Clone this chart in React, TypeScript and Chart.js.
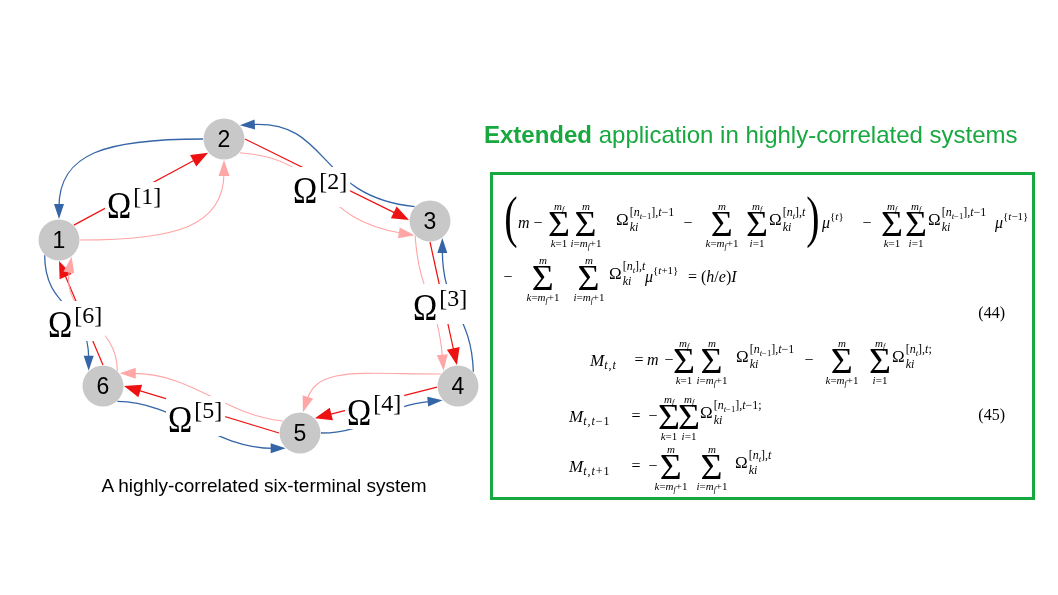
import React, { useEffect, useRef } from "react";
import { Chart, registerables } from "chart.js";

Chart.register(...registerables);

// ---------------- data ----------------
const nodeLabels = ["1", "2", "3", "4", "5", "6"];
const nodeX = [59, 224, 430, 458, 300, 103];
const nodeY = [240, 139, 221, 386, 433, 386];

// directed couplings between terminals (0-based node index)
const edgeFrom = [1, 0, 0, 2, 1, 1, 2, 2, 3, 3, 3, 4, 4, 4, 5, 5, 5, 0];
const edgeTo = [0, 1, 1, 1, 2, 2, 3, 3, 2, 4, 4, 3, 5, 5, 4, 0, 0, 5];
const edgeKind = ["b", "r", "p", "b", "r", "p", "r", "p", "b", "r", "p", "b", "r", "p", "b", "r", "p", "b"];

const omegaTerms = ["[1]", "[2]", "[3]", "[4]", "[5]", "[6]"];
const omegaX = [107, 293, 413, 347, 168, 48];
const omegaY = [218, 203, 320, 425, 432, 337];

const titleBold = "Extended";
const titleRest = " application in highly-correlated systems";
const caption = "A highly-correlated six-terminal system";
const eqNumbers = ["(44)", "(45)"];

// ---------------- styles ----------------
const GREEN = "#17a840";
const MF = '"Liberation Serif", "Times New Roman", serif';
const SF = '"Liberation Sans", Arial, sans-serif';
const NODE_R = 20.5;
const EDGE_R = 21;
const kindColor: Record<string, string> = { b: "#3565a6", r: "#ee1111", p: "#ffa6a6" };
const kindWidth: Record<string, number> = { b: 1.3, r: 1.2, p: 1.1 };
const kindArrow: Record<string, number[]> = { b: [15, 5], r: [17, 6.5], p: [16, 5.5] };
// [exit angle on source, entry angle on target, start handle dir, len, end handle dir, len]
const edgeShape = [
  [180, 270, 180, 97, 270, 54],
  [315, 139, 0, 0, 0, 0],
  [0, 90, 0, 95, 90, 54],
  [223, 319, 186, 100, -3, 80],
  [0, 183, 0, 0, 0, 0],
  [41, 137, 4, 90, 189, 90],
  [90, 267, 0, 0, 0, 0],
  [135, 227, 86, 60, 265, 60],
  [317, 54, 268, 60, 90, 60],
  [177, 315, 0, 0, 0, 0],
  [215, 278, 180, 85, 288, 35],
  [0, 137, 0, 50, 175, 50],
  [180, 0, 0, 0, 0, 0],
  [215, 323, 186, 60, 0, 60],
  [47, 133, 1, 60, 180, 60],
  [270, 90, 0, 0, 0, 0],
  [313, 53, 270, 50, 100, 50],
  [133, 227, 90, 55, 270, 55],
];

const rad = (d: number) => (d * Math.PI) / 180;

const diagramPlugin = {
  id: "diagram",
  beforeDatasetsDraw(chart: any) {
    const ctx = chart.ctx as CanvasRenderingContext2D;
    const sx = chart.scales.x;
    const sy = chart.scales.y;
    const cx = nodeX.map((v) => sx.getPixelForValue(v));
    const cy = nodeY.map((v) => sy.getPixelForValue(v));
    ctx.save();
    edgeFrom.forEach((f, i) => {
      const t = edgeTo[i];
      const [a0, a1, h0d, h0l, h1d, h1l] = edgeShape[i];
      const p0 = [cx[f] + EDGE_R * Math.cos(rad(a0)), cy[f] + EDGE_R * Math.sin(rad(a0))];
      const p3 = [cx[t] + EDGE_R * Math.cos(rad(a1)), cy[t] + EDGE_R * Math.sin(rad(a1))];
      const c1 = [p0[0] + h0l * Math.cos(rad(h0d)), p0[1] + h0l * Math.sin(rad(h0d))];
      const c2 = [p3[0] + h1l * Math.cos(rad(h1d)), p3[1] + h1l * Math.sin(rad(h1d))];
      const curved = h0l > 0 || h1l > 0;
      let ux = curved ? p3[0] - c2[0] : p3[0] - p0[0];
      let uy = curved ? p3[1] - c2[1] : p3[1] - p0[1];
      const ul = Math.hypot(ux, uy) || 1;
      ux /= ul;
      uy /= ul;
      const [AL, AW] = kindArrow[edgeKind[i]];
      const sh = AL * 0.8;
      const e = [p3[0] - ux * sh, p3[1] - uy * sh];
      const col = kindColor[edgeKind[i]];
      ctx.beginPath();
      ctx.moveTo(p0[0], p0[1]);
      if (curved) ctx.bezierCurveTo(c1[0], c1[1], c2[0] - ux * sh, c2[1] - uy * sh, e[0], e[1]);
      else ctx.lineTo(e[0], e[1]);
      ctx.strokeStyle = col;
      ctx.lineWidth = kindWidth[edgeKind[i]];
      ctx.stroke();
      const bx = p3[0] - ux * AL;
      const by = p3[1] - uy * AL;
      ctx.beginPath();
      ctx.moveTo(p3[0], p3[1]);
      ctx.lineTo(bx - uy * AW, by + ux * AW);
      ctx.lineTo(bx + uy * AW, by - ux * AW);
      ctx.closePath();
      ctx.fillStyle = col;
      ctx.fill();
    });
    // Omega labels
    omegaTerms.forEach((term, i) => {
      const x = sx.getPixelForValue(omegaX[i]);
      const y = sy.getPixelForValue(omegaY[i]);
      ctx.font = `37px ${MF}`;
      const w1 = ctx.measureText("Ω").width * 0.88;
      ctx.font = `24px ${MF}`;
      const w2 = ctx.measureText(term).width;
      ctx.fillStyle = "#ffffff";
      ctx.fillRect(x - 2, y - 36, w1 + w2 + 7, 40);
      ctx.fillStyle = "#000000";
      ctx.textBaseline = "alphabetic";
      ctx.textAlign = "left";
      ctx.save();
      ctx.translate(x, y);
      ctx.scale(0.88, 1);
      ctx.font = `37px ${MF}`;
      ctx.fillText("Ω", 0, 0);
      ctx.restore();
      ctx.font = `24px ${MF}`;
      ctx.fillText(term, x + w1 + 2, y - 14);
    });
    ctx.restore();
  },
  afterDatasetsDraw(chart: any) {
    const ctx = chart.ctx as CanvasRenderingContext2D;
    const sx = chart.scales.x;
    const sy = chart.scales.y;
    ctx.save();
    ctx.font = `23px ${SF}`;
    ctx.fillStyle = "#000";
    ctx.textAlign = "center";
    ctx.textBaseline = "alphabetic";
    nodeLabels.forEach((l, i) => {
      ctx.fillText(l, sx.getPixelForValue(nodeX[i]), sy.getPixelForValue(nodeY[i]) + 8);
    });
    ctx.restore();
  },
};

// ---------------- math helpers ----------------
const Sub = ({ children, dy = 4, size = 12 }: any) => (
  <span style={{ fontSize: size, position: "relative", top: dy, letterSpacing: 1 }}>{children}</span>
);
const Sup = ({ children, dy = -7, size = 11 }: any) => (
  <span style={{ fontSize: size, position: "relative", top: dy }}>{children}</span>
);
const Tiny = ({ children }: any) => (
  <span style={{ fontSize: "0.72em", position: "relative", top: "0.3em" }}>{children}</span>
);
const mf = (
  <>
    <i>m</i>
    <Tiny>
      <i>f</i>
    </Tiny>
  </>
);
const mm = <i>m</i>;
const kOne = (
  <>
    <i>k</i>=1
  </>
);
const iOne = (
  <>
    <i>i</i>=1
  </>
);
const kMf = (
  <>
    <i>k</i>={mf}+1
  </>
);
const iMf = (
  <>
    <i>i</i>={mf}+1
  </>
);
const supPrev = (
  <>
    [<i>n</i>
    <Tiny>
      <i>t</i>−1
    </Tiny>
    ],<i>t</i>−1
  </>
);
const supCur = (
  <>
    [<i>n</i>
    <Tiny>
      <i>t</i>
    </Tiny>
    ],<i>t</i>
  </>
);

function At({ x, y, children, size = 16, anchor = "l" }: any) {
  const tx = anchor === "c" ? "-50%" : anchor === "r" ? "-100%" : "0";
  return (
    <div
      style={{
        position: "absolute",
        left: x,
        top: y,
        transform: `translate(${tx},-50%)`,
        fontFamily: MF,
        fontSize: size,
        lineHeight: 1,
        whiteSpace: "nowrap",
        display: "flex",
        alignItems: "center",
        color: "#000",
      }}
    >
      {children}
    </div>
  );
}

function Sum({ x, y, top, bot }: any) {
  return (
    <div
      style={{
        position: "absolute",
        left: x,
        top: y,
        transform: "translate(-50%,-50%)",
        display: "flex",
        flexDirection: "column",
        alignItems: "center",
        fontFamily: MF,
        color: "#000",
      }}
    >
      <span style={{ fontSize: 11, lineHeight: "12px", height: 12, whiteSpace: "nowrap" }}>{top}</span>
      <span style={{ fontSize: 35, lineHeight: "25px", height: 25, display: "inline-block", transform: "scaleX(1.08)" }}>Σ</span>
      <span style={{ fontSize: 11, lineHeight: "12px", height: 12, whiteSpace: "nowrap" }}>{bot}</span>
    </div>
  );
}

function OmT({ x, y, sup }: any) {
  return (
    <div
      style={{
        position: "absolute",
        left: x,
        top: y - 5,
        transform: "translateY(-50%)",
        display: "flex",
        alignItems: "center",
        fontFamily: MF,
        whiteSpace: "nowrap",
        color: "#000",
      }}
    >
      <span style={{ fontSize: 17, lineHeight: "17px" }}>Ω</span>
      <span style={{ display: "flex", flexDirection: "column", fontSize: 12, lineHeight: "14px", marginLeft: 1 }}>
        <span>{sup}</span>
        <span>
          <i>ki</i>
        </span>
      </span>
    </div>
  );
}

const Mu = ({ x, y, s }: any) => (
  <At x={x} y={y}>
    <i>μ</i>
    <Sup>{s}</Sup>
  </At>
);

const MSym = ({ x, y, sub }: any) => (
  <At x={x} y={y} size={17}>
    <i>M</i>
    <Sub>{sub}</Sub>
  </At>
);

function Equations() {
  const y1 = 224;
  const y2 = 278;
  const y3 = 361;
  const y4 = 417;
  const y5 = 467;
  return (
    <>
      {/* line 1 */}
      <At x={511} y={y1 - 6} anchor="c">
        <span style={{ fontSize: 40, display: "inline-block", transform: "scaleY(1.4)" }}>(</span>
      </At>
      <At x={518} y={y1 - 1}>
        <i>m</i>
      </At>
      <At x={538} y={y1 - 1.5} anchor="c">−</At>
      <Sum x={559} y={y1} top={mf} bot={kOne} />
      <Sum x={586} y={y1} top={mm} bot={iMf} />
      <OmT x={616} y={y1} sup={supPrev} />
      <At x={688} y={y1 - 1.5} anchor="c">−</At>
      <Sum x={722} y={y1} top={mm} bot={kMf} />
      <Sum x={757} y={y1} top={mf} bot={iOne} />
      <OmT x={769} y={y1} sup={supCur} />
      <At x={813} y={y1 - 6} anchor="c">
        <span style={{ fontSize: 40, display: "inline-block", transform: "scaleY(1.4)" }}>)</span>
      </At>
      <Mu x={822} y={y1 - 1} s={<>{"{"}<i>t</i>{"}"}</>} />
      <At x={867} y={y1 - 1.5} anchor="c">−</At>
      <Sum x={892} y={y1} top={mf} bot={kOne} />
      <Sum x={916} y={y1} top={mf} bot={iOne} />
      <OmT x={928} y={y1} sup={supPrev} />
      <Mu x={995} y={y1 - 1} s={<>{"{"}<i>t</i>−1{"}"}</>} />

      {/* line 2 */}
      <At x={508} y={y2 - 1.5} anchor="c">−</At>
      <Sum x={543} y={y2} top={mm} bot={kMf} />
      <Sum x={589} y={y2} top={mm} bot={iMf} />
      <OmT x={609} y={y2} sup={supCur} />
      <Mu x={645} y={y2 - 1} s={<>{"{"}<i>t</i>+1{"}"}</>} />
      <At x={688} y={y2 - 1}>
        =&nbsp;(<i>h</i>/<i>e</i>)<i>I</i>
      </At>
      <At x={1005} y={313} anchor="r">{eqNumbers[0]}</At>

      {/* line 3 */}
      <MSym x={590} y={y3 - 1} sub={<i>t,t</i>} />
      <At x={639} y={y3 - 1.5} anchor="c">=</At>
      <At x={647} y={y3 - 1}>
        <i>m</i>
      </At>
      <At x={669} y={y3 - 1.5} anchor="c">−</At>
      <Sum x={684} y={y3} top={mf} bot={kOne} />
      <Sum x={712} y={y3} top={mm} bot={iMf} />
      <OmT x={736} y={y3} sup={supPrev} />
      <At x={809} y={y3 - 1.5} anchor="c">−</At>
      <Sum x={842} y={y3} top={mm} bot={kMf} />
      <Sum x={880} y={y3} top={mf} bot={iOne} />
      <OmT x={892} y={y3} sup={<>{supCur};</>} />

      {/* line 4 */}
      <MSym x={569} y={y4 - 1} sub={<><i>t,t</i>−1</>} />
      <At x={636} y={y4 - 1.5} anchor="c">=</At>
      <At x={653} y={y4 - 1.5} anchor="c">−</At>
      <Sum x={669} y={y4} top={mf} bot={kOne} />
      <Sum x={689} y={y4} top={mf} bot={iOne} />
      <OmT x={700} y={y4} sup={<>{supPrev};</>} />
      <At x={1005} y={415} anchor="r">{eqNumbers[1]}</At>

      {/* line 5 */}
      <MSym x={569} y={y5 - 1} sub={<><i>t,t</i>+1</>} />
      <At x={636} y={y5 - 1.5} anchor="c">=</At>
      <At x={653} y={y5 - 1.5} anchor="c">−</At>
      <Sum x={671} y={y5} top={mm} bot={kMf} />
      <Sum x={712} y={y5} top={mm} bot={iMf} />
      <OmT x={735} y={y5} sup={supCur} />
    </>
  );
}

export default function App() {
  const ref = useRef<HTMLCanvasElement | null>(null);
  useEffect(() => {
    if (!ref.current) return;
    const chart = new Chart(ref.current, {
      type: "scatter",
      data: {
        datasets: [
          {
            data: nodeX.map((x, i) => ({ x, y: nodeY[i] })),
            pointRadius: NODE_R,
            pointHoverRadius: NODE_R,
            pointBackgroundColor: "#c8c8c8",
            pointBorderColor: "#c8c8c8",
            pointBorderWidth: 0,
          },
        ],
      },
      options: {
        animation: false,
        responsive: false,
        events: [],
        layout: { padding: 0, autoPadding: false },
        scales: {
          x: { type: "linear", min: 0, max: 1058, display: false },
          y: { type: "linear", min: 0, max: 595, reverse: true, display: false },
        },
        plugins: { legend: { display: false }, tooltip: { enabled: false } },
      },
      plugins: [diagramPlugin],
    } as any);
    return () => chart.destroy();
  }, []);

  return (
    <div style={{ position: "absolute", left: 0, top: 0, width: 1058, height: 595, overflow: "hidden", background: "#fff" }}>
      <canvas ref={ref} width={1058} height={595} style={{ position: "absolute", left: 0, top: 0, width: 1058, height: 595 }} />
      <div
        style={{
          position: "absolute",
          left: 484,
          top: 123,
          fontFamily: SF,
          fontSize: 24,
          lineHeight: "24px",
          color: GREEN,
          whiteSpace: "nowrap",
        }}
      >
        <b>{titleBold}</b>
        {titleRest}
      </div>
      <div
        style={{
          position: "absolute",
          left: 490,
          top: 172,
          width: 545,
          height: 328,
          border: `3px solid ${GREEN}`,
          boxSizing: "border-box",
        }}
      />
      <Equations />
      <div
        style={{
          position: "absolute",
          left: 264,
          top: 476,
          transform: "translateX(-50%)",
          fontFamily: SF,
          fontSize: 19,
          lineHeight: "19px",
          color: "#000",
          whiteSpace: "nowrap",
        }}
      >
        {caption}
      </div>
    </div>
  );
}
